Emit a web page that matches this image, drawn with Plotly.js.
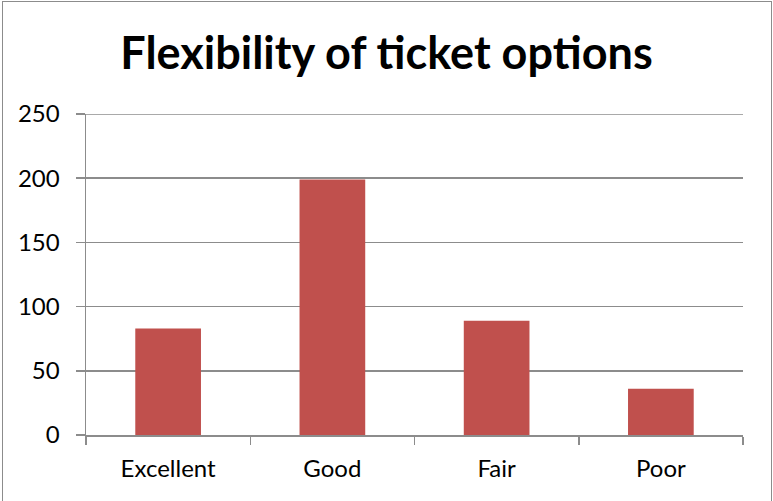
<!DOCTYPE html>
<html>
<head>
<meta charset="utf-8">
<script src="https://cdn.plot.ly/plotly-3.0.1.min.js"></script>
<style>
html,body{margin:0;padding:0;background:#fff;}
#wrap{position:relative;width:773px;height:501px;}
#chart{width:773px;height:501px;}
#frame{position:absolute;left:2px;top:1px;width:770px;height:502px;border:1.5px solid #8c8c8c;pointer-events:none;box-sizing:border-box;}
</style>
</head>
<body>
<div id="wrap"><div id="chart"></div><div id="frame"></div></div>
<script>
const categories = ["Excellent", "Good", "Fair", "Poor"];
const values = [83, 199, 89, 36];
const yTicks = [0, 50, 100, 150, 200, 250];
const chartTitle = "Flexibility of ticket options";

const data = [{
  type: "bar",
  x: categories,
  y: values,
  marker: {color: "#C0504D"},
  hoverinfo: "x+y"
}];

const layout = {
  width: 773,
  height: 501,
  margin: {l: 86, r: 30, t: 114, b: 66},
  paper_bgcolor: "#ffffff",
  plot_bgcolor: "#ffffff",
  bargap: 0.6,
  showlegend: false,
  font: {family: "Lato, 'Open Sans', sans-serif", color: "#000"},
  title: {
    text: "<b>" + chartTitle + "</b>",
    font: {family: "Lato, sans-serif", size: 45, color: "#000"},
    x: 0.5, xanchor: "center",
    y: 0.893, yanchor: "middle"
  },
  xaxis: {
    type: "category",
    showline: true, linecolor: "#8c8c8c", linewidth: 1.5,
    ticks: "outside", tickson: "boundaries", ticklen: 8, tickcolor: "#8c8c8c", tickwidth: 1.5,
    showgrid: false,
    tickfont: {size: 24, color: "#000"},
    ticklabelstandoff: 12,
    fixedrange: true
  },
  yaxis: {
    range: [0, 250],
    tickvals: yTicks,
    ticktext: yTicks.map(String),
    showline: true, linecolor: "#8c8c8c", linewidth: 1.5,
    ticks: "outside", ticklen: 9, tickcolor: "#8c8c8c", tickwidth: 1.5,
    showgrid: true, gridcolor: "#8c8c8c", gridwidth: 1.5,
    zeroline: false,
    tickfont: {size: 24, color: "#000"},
    ticklabelstandoff: 11,
    fixedrange: true
  },
  shapes: [{
    type: "line", xref: "paper", yref: "y",
    x0: 0, x1: 1, y0: yTicks[yTicks.length - 1], y1: yTicks[yTicks.length - 1],
    line: {color: "#8c8c8c", width: 1.5}, layer: "below"
  }]
};

Plotly.newPlot("chart", data, layout, {displayModeBar: false, staticPlot: true});
</script>
</body>
</html>
